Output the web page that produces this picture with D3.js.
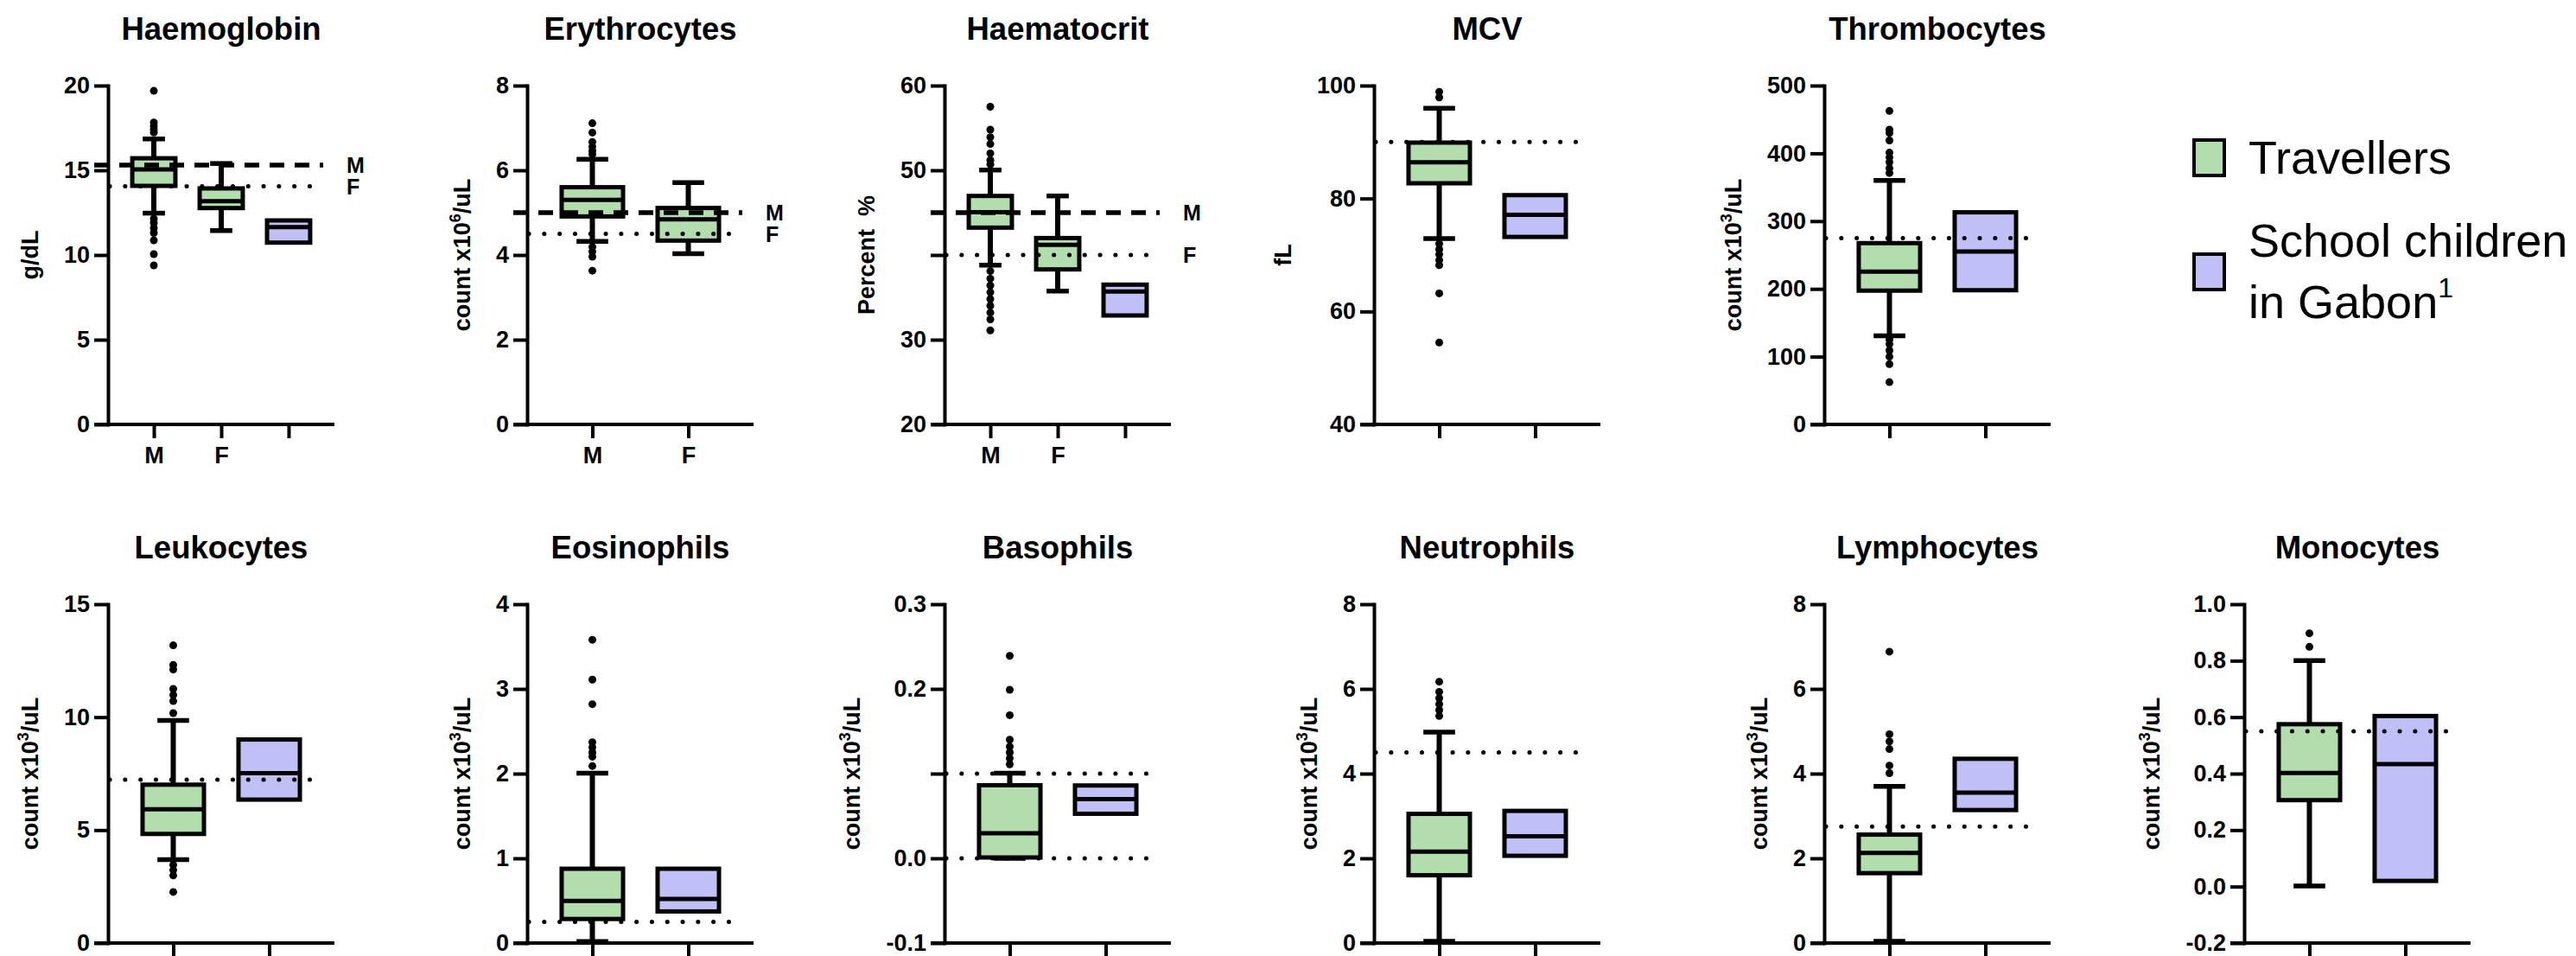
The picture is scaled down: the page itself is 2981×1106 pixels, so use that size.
<!DOCTYPE html>
<html>
<head>
<meta charset="utf-8">
<script src="https://cdn.jsdelivr.net/npm/d3@7"></script>
<style>
  body { margin: 0; background: #fff; }
  text { font-family: "Liberation Sans", Arial, sans-serif; }
</style>
</head>
<body>
<div id="chart"></div>
<script>
// ---- data ----
// box stats: [whisker low, Q1, median, Q3, whisker high]; null = no whisker
var titles = ["Haemoglobin", "Erythrocytes", "Haematocrit", "MCV", "Thrombocytes",
              "Leukocytes", "Eosinophils", "Basophils", "Neutrophils", "Lymphocytes", "Monocytes"];

var hbBox  = [[12.47, 14.08, 15.05, 15.71, 16.85], [11.44, 12.77, 13.18, 13.93, 15.4], [null, 10.73, 11.65, 12.04, null]];
var hbOut  = [[19.69, 17.82, 17.6, 17.4, 17.23, 12.14, 11.9, 11.6, 11.3, 10.87, 10.05, 9.39], [], []];
var hbRef  = [15.3, 14.05];

var eryBox = [[4.32, 4.91, 5.30, 5.60, 6.26], [4.03, 4.34, 4.84, 5.11, 5.71]];
var eryOut = [[7.11, 6.89, 6.67, 6.56, 6.46, 6.38, 4.19, 4.08, 3.96, 3.63], []];
var eryRef = [5.0, 4.5];

var hctBox = [[38.8, 43.23, 45.05, 46.97, 50.03], [35.74, 38.3, 41.2, 42.0, 46.97], [null, 32.86, 35.7, 36.5, null]];
var hctOut = [[57.5, 54.8, 53.9, 53.1, 52.0, 51.2, 50.7, 38.1, 37.2, 36.4, 35.6, 34.8, 34.0, 33.2, 32.4, 31.1], [], []];
var hctRef = [45, 40];

var mcvBox = [[72.9, 82.7, 86.4, 89.9, 96.0], [null, 73.2, 77.1, 80.6, null]];
var mcvOut = [[98.9, 97.9, 72.0, 71.0, 70.1, 69.1, 68.2, 63.2, 54.5], []];
var mcvRef = [90];

var thrBox = [[130.8, 197.4, 225.6, 267.5, 360], [null, 198, 255, 313, null]];
var thrOut = [[462.6, 435, 430, 419, 401, 394, 387, 378, 371, 125, 118.5, 109, 100, 89, 62.4], []];
var thrRef = [275];

var leuBox = [[3.69, 4.83, 5.92, 7.01, 9.85], [null, 6.35, 7.52, 9.01, null]];
var leuOut = [[13.18, 12.31, 12.11, 11.25, 10.98, 10.71, 10.18, 3.46, 3.23, 2.99, 2.26], []];
var leuRef = [7.23];

var eosBox = [[0.018, 0.284, 0.497, 0.877, 2.005], [null, 0.373, 0.52, 0.877, null]];
var eosOut = [[3.58, 3.11, 2.82, 2.37, 2.31, 2.25, 2.2, 2.09], []];
var eosRef = [0.25];

var basBox = [[0, 0.001, 0.0295, 0.0863, 0.1005], [null, 0.0526, 0.07, 0.086, null]];
var basOut = [[0.239, 0.199, 0.169, 0.14, 0.132, 0.125, 0.118, 0.111], []];
var basRef = [0.1, 0];

var neuBox = [[0.04, 1.6, 2.16, 3.05, 4.98], [null, 2.06, 2.52, 3.12, null]];
var neuOut = [[6.17, 5.93, 5.78, 5.64, 5.5, 5.36], []];
var neuRef = [4.5];

var lymBox = [[0.04, 1.65, 2.13, 2.56, 3.7], [null, 3.14, 3.55, 4.35, null]];
var lymOut = [[6.88, 4.93, 4.76, 4.58, 4.19, 4.01], []];
var lymRef = [2.75];

var monBox = [[0.002, 0.306, 0.402, 0.575, 0.8], [null, 0.02, 0.434, 0.604, null]];
var monOut = [[0.897, 0.849], []];
var monRef = [0.55];

// axis ticks
var hbTicks  = [0, 5, 10, 15, 20];
var eryTicks = [0, 2, 4, 6, 8];
var hctTicks = [20, 30, 40, 50, 60];
var mcvTicks = [40, 60, 80, 100];
var thrTicks = [0, 100, 200, 300, 400, 500];
var leuTicks = [0, 5, 10, 15];
var eosTicks = [0, 1, 2, 3, 4];
var basTicks = [-0.1, 0, 0.1, 0.2, 0.3];
var cellTicks = [0, 2, 4, 6, 8];
var monTicks = [-0.2, 0, 0.2, 0.4, 0.6, 0.8, 1.0];

var cats3 = ["M", "F", "Gabon"];
var cats2 = ["M", "F"];
var catsTG = ["Travellers", "Gabon"];
var legendLabels = ["Travellers", "School children", "in Gabon"];

// ---- assemble panels ----
var fmt0 = function(d){ return String(d); };
var fmt1 = function(d){ return d.toFixed(1); };
var k3 = "count x10", uL = "/uL";

var panels = [
  {box: hbBox,  out: hbOut,  ref: hbRef,  refLab: ["M", "F"], dom: [0, 20],    ticks: hbTicks,  hide: [],   fmt: fmt0, cats: cats3,  xlab: true,  ylab: ["g/dL"]},
  {box: eryBox, out: eryOut, ref: eryRef, refLab: ["M", "F"], dom: [0, 8],     ticks: eryTicks, hide: [],   fmt: fmt0, cats: cats2,  xlab: true,  ylab: [k3, "6", uL]},
  {box: hctBox, out: hctOut, ref: hctRef, refLab: ["M", "F"], dom: [20, 60],   ticks: hctTicks, hide: [40], fmt: fmt0, cats: cats3,  xlab: true,  ylab: ["Percent  %"]},
  {box: mcvBox, out: mcvOut, ref: mcvRef, refLab: null, dom: [40, 100],  ticks: mcvTicks, hide: [],   fmt: fmt0, cats: catsTG, xlab: false, ylab: ["fL"]},
  {box: thrBox, out: thrOut, ref: thrRef, refLab: null, dom: [0, 500],   ticks: thrTicks, hide: [],   fmt: fmt0, cats: catsTG, xlab: false, ylab: [k3, "3", uL]},
  {box: leuBox, out: leuOut, ref: leuRef, refLab: null, dom: [0, 15],    ticks: leuTicks, hide: [],   fmt: fmt0, cats: catsTG, xlab: false, ylab: [k3, "3", uL]},
  {box: eosBox, out: eosOut, ref: eosRef, refLab: null, dom: [0, 4],     ticks: eosTicks, hide: [],   fmt: fmt0, cats: catsTG, xlab: false, ylab: [k3, "3", uL]},
  {box: basBox, out: basOut, ref: basRef, refLab: null, dom: [-0.1, 0.3], ticks: basTicks, hide: [0.1], fmt: fmt1, cats: catsTG, xlab: false, ylab: [k3, "3", uL]},
  {box: neuBox, out: neuOut, ref: neuRef, refLab: null, dom: [0, 8],     ticks: cellTicks, hide: [],  fmt: fmt0, cats: catsTG, xlab: false, ylab: [k3, "3", uL]},
  {box: lymBox, out: lymOut, ref: lymRef, refLab: null, dom: [0, 8],     ticks: cellTicks, hide: [],  fmt: fmt0, cats: catsTG, xlab: false, ylab: [k3, "3", uL]},
  {box: monBox, out: monOut, ref: monRef, refLab: null, dom: [-0.2, 1.0], ticks: monTicks, hide: [],  fmt: fmt1, cats: catsTG, xlab: false, ylab: [k3, "3", uL]}
];

// ---- layout ----
var W = 2981, H = 1106;
var axisX = [125, 610, 1093, 1590, 2111, 125, 610, 1093, 1590, 2111, 2597];
var plotTop = 99, plotH = 392, rowGap = 600, axisLen = 262;
var green = "#b2deae", purple = "#c0c0f7";
var lw = 4;

var svg = d3.select("#chart").append("svg")
  .attr("width", W).attr("height", H)
  .style("background", "#fff");

panels.forEach(function(p, i){
  var row = i < 5 ? 0 : 1;
  var top = plotTop + rowGap * row, bottom = top + plotH;
  var g = svg.append("g").attr("transform", "translate(" + axisX[i] + ",0)");

  var y = d3.scaleLinear().domain(p.dom).range([bottom, top]);
  var x = d3.scalePoint().domain(p.cats).range([0, axisLen]).padding(0.68);
  var step = x.step(), bw = step * 0.64, cw = step * 0.33;

  // title
  g.append("text")
    .attr("x", axisLen / 2).attr("y", 46 + rowGap * row)
    .attr("text-anchor", "middle")
    .style("font-size", "36.5px").style("font-weight", "bold")
    .text(titles[i]);

  // y axis
  var ya = g.append("g")
    .call(d3.axisLeft(y).tickValues(p.ticks).tickSize(16).tickSizeOuter(0).tickPadding(5)
      .tickFormat(function(d){ return p.hide.indexOf(d) >= 0 ? "" : p.fmt(d); }));
  ya.select(".domain").attr("stroke-width", lw).attr("stroke-linecap", "square");
  ya.selectAll(".tick line").attr("stroke-width", lw);
  ya.selectAll(".tick text").attr("fill", "#000")
    .style("font-size", "27px").style("font-weight", "bold")
    .style("font-family", "'Liberation Sans', Arial, sans-serif");

  // x axis
  var xa = g.append("g").attr("transform", "translate(0," + bottom + ")")
    .call(d3.axisBottom(x).tickSize(16).tickSizeOuter(0).tickPadding(10)
      .tickFormat(function(d){ return p.xlab && d !== "Gabon" ? d : ""; }));
  xa.select(".domain").remove();
  xa.selectAll(".tick line").attr("stroke-width", lw);
  xa.selectAll(".tick text").attr("fill", "#000")
    .style("font-size", "27px").style("font-weight", "bold")
    .style("font-family", "'Liberation Sans', Arial, sans-serif");
  xa.append("line")
    .attr("x1", -16).attr("x2", axisLen).attr("y1", 0).attr("y2", 0)
    .attr("stroke", "#000").attr("stroke-width", lw);

  // y label
  var bb = ya.node().getBBox();
  var lx = bb.x - 30, ly = (top + bottom) / 2;
  var lab = g.append("text")
    .attr("transform", "translate(" + lx + "," + ly + ") rotate(-90)")
    .attr("text-anchor", "middle")
    .style("font-size", "27px").style("font-weight", "bold")
    .style("white-space", "pre");
  lab.append("tspan").text(p.ylab[0]);
  if (p.ylab.length > 1) {
    lab.append("tspan").attr("dy", -11).style("font-size", "18px").text(p.ylab[1]);
    lab.append("tspan").attr("dy", 11).text(p.ylab[2]);
  }

  // boxes
  p.cats.forEach(function(c, j){
    var s = p.box[j], cx = x(c);
    var col = c === "Gabon" ? purple : green;
    if (s[0] !== null) {
      g.append("line").attr("x1", cx).attr("x2", cx).attr("y1", y(s[4])).attr("y2", y(s[3]))
        .attr("stroke", "#000").attr("stroke-width", 6);
      g.append("line").attr("x1", cx).attr("x2", cx).attr("y1", y(s[1])).attr("y2", y(s[0]))
        .attr("stroke", "#000").attr("stroke-width", 6);
      [s[0], s[4]].forEach(function(v){
        g.append("line").attr("x1", cx - cw / 2).attr("x2", cx + cw / 2).attr("y1", y(v)).attr("y2", y(v))
          .attr("stroke", "#000").attr("stroke-width", 5.5);
      });
    }
    g.append("rect")
      .attr("x", cx - bw / 2).attr("y", y(s[3]))
      .attr("width", bw).attr("height", y(s[1]) - y(s[3]))
      .attr("fill", col).attr("stroke", "#000").attr("stroke-width", 5);
    g.append("line").attr("x1", cx - bw / 2).attr("x2", cx + bw / 2).attr("y1", y(s[2])).attr("y2", y(s[2]))
      .attr("stroke", "#000").attr("stroke-width", 5);
    g.selectAll(null).data(p.out[j]).enter().append("circle")
      .attr("cx", cx).attr("cy", function(d){ return y(d); }).attr("r", 4.5)
      .attr("fill", "#000");
  });

  // reference lines
  p.ref.forEach(function(v, k){
    var dashed = p.refLab && k === 0;
    g.append("line")
      .attr("x1", dashed ? -16 : 2).attr("x2", axisLen - 13)
      .attr("y1", y(v)).attr("y2", y(v))
      .attr("stroke", "#000")
      .attr("stroke-width", dashed ? 5.5 : 5)
      .attr("stroke-linecap", dashed ? "butt" : "round")
      .attr("stroke-dasharray", dashed ? "17 12" : "0.1 17.7");
    if (p.refLab) {
      g.append("text")
        .attr("x", axisLen + 14).attr("y", y(v))
        .attr("dy", "0.36em")
        .style("font-size", "25px").style("font-weight", "bold")
        .text(p.refLab[k]);
    }
  });
});

// ---- legend ----
var leg = svg.append("g");
leg.append("rect").attr("x", 2539).attr("y", 162).attr("width", 35).attr("height", 41)
  .attr("fill", green).attr("stroke", "#000").attr("stroke-width", lw);
leg.append("rect").attr("x", 2539).attr("y", 294).attr("width", 35).attr("height", 41)
  .attr("fill", purple).attr("stroke", "#000").attr("stroke-width", lw);
leg.append("text").attr("x", 2602).attr("y", 201).style("font-size", "54px").text(legendLabels[0]);
leg.append("text").attr("x", 2602).attr("y", 297).style("font-size", "54px").text(legendLabels[1]);
var g2 = leg.append("text").attr("x", 2602).attr("y", 368).style("font-size", "54px");
g2.append("tspan").text(legendLabels[2]);
g2.append("tspan").attr("dy", -24).style("font-size", "32px").text("1");
</script>
</body>
</html>
